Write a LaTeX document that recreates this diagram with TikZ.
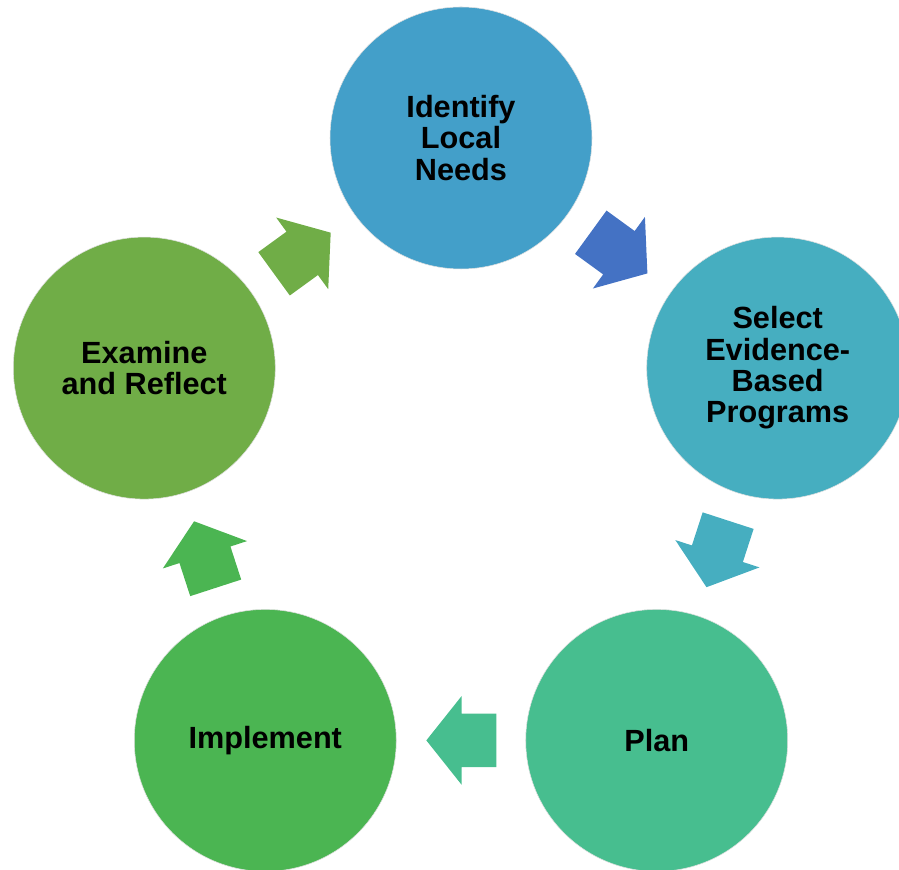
\documentclass[tikz,border=0pt]{standalone}
\usepackage{fontspec}
\setmainfont{Liberation Sans}
\usetikzlibrary{shapes.arrows,calc}
\definecolor{needsBlue}{HTML}{439FC9}
\definecolor{selectTeal}{HTML}{46AEC0}
\definecolor{planGreen}{HTML}{47BE8F}
\definecolor{implGreen}{HTML}{4BB552}
\definecolor{examGreen}{HTML}{70AD47}
\definecolor{arrowBlue}{HTML}{4472C4}
\tikzset{
  stage/.style={circle, draw=black!12, line width=0.4pt, inner sep=0pt, minimum size=196.5pt, align=center, font=\bfseries\fontsize{23}{23.5}\selectfont},
  cycArrow/.style={single arrow, draw=none, inner xsep=0pt, inner ysep=19.9pt, minimum height=52.5pt, minimum width=66pt, single arrow head extend=13.1pt, single arrow tip angle=103, single arrow head indent=0pt, anchor=tip}
}

\begin{document}
\begin{tikzpicture}[x=0.75pt, y=0.75pt]
\useasboundingbox (0,0) rectangle (899,870);

% Centre of the cycle
\coordinate (O) at (461,399);

% Stages
\node[stage, fill=needsBlue] (S1) at ($(O)+(90:333)$) {Identify\\Local\\Needs};
\node[stage, fill=selectTeal] (S2) at ($(O)+(18:333)$) {Select\\Evidence-\\Based\\Programs};
\node[stage, fill=planGreen] (S3) at ($(O)+(-54:333)$) {Plan};
\node[stage, fill=implGreen] (S4) at ($(O)+(-126:333)$) {Implement};
\node[stage, fill=examGreen] (S5) at ($(O)+(162:333)$) {Examine\\and Reflect};

% Block arrows between the stages, tip half a length past the midpoint
\foreach \i/\j/\ang/\col in {1/2/-36/arrowBlue, 2/3/-108/selectTeal, 3/4/180/planGreen, 4/5/108/implGreen, 5/1/36/examGreen} {
  \node[cycArrow, fill=\col, rotate=\ang] (A\i) at ($(S\i)!0.5!(S\j)!26.25pt!(S\j)$) {};
}

\end{tikzpicture}
\end{document}
